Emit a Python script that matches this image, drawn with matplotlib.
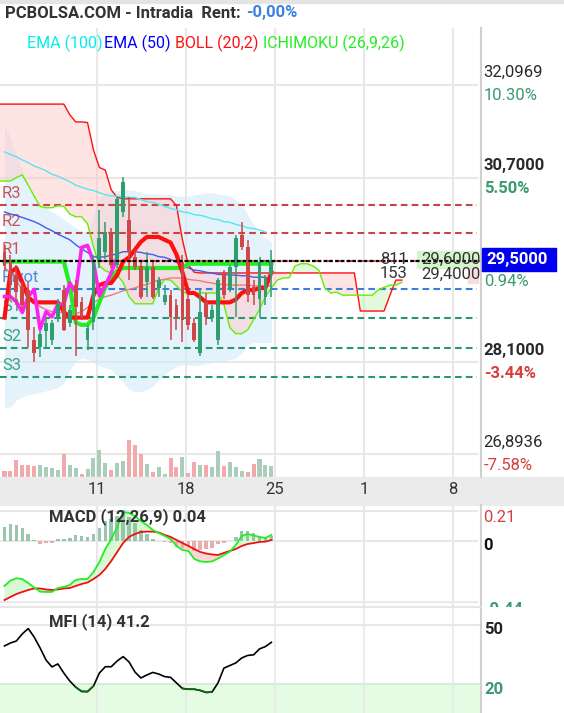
import numpy as np
import matplotlib
matplotlib.use("Agg")
import matplotlib.pyplot as plt
from matplotlib.patches import Rectangle
from matplotlib.lines import Line2D

plt.rcParams['font.family'] = ['Roboto', 'DejaVu Sans']

# ---------------- data ----------------
opens = [29.63,29.49,29.30,29.15,29.09,28.41,28.31,28.52,28.41,28.72,29.09,28.64,29.16,28.92,28.41,
         28.65,29.49,29.62,29.91,29.44,30.20,30.09,29.55,29.43,29.20,29.41,29.12,28.93,29.02,28.89,
         29.49,28.96,28.64,28.23,28.93,28.71,28.41,29.33,29.12,29.41,29.87,29.70,29.13,28.96,29.00,29.30]
highs = [29.73,29.59,29.44,29.20,29.20,28.58,28.52,28.71,28.68,28.96,29.16,28.89,29.23,28.99,28.61,
         29.59,30.23,30.06,29.97,30.42,30.71,30.42,29.66,29.49,29.63,29.49,29.28,29.16,29.09,28.96,
         29.59,29.02,28.71,29.09,29.05,28.89,29.26,29.37,29.44,29.87,30.05,29.80,29.23,29.55,29.30,29.66]
lows = [29.37,28.96,28.89,28.82,28.31,28.10,28.17,28.31,28.34,28.65,28.52,28.58,28.18,28.68,28.27,
        28.54,29.40,29.52,29.40,29.40,30.12,29.23,29.37,28.96,29.00,28.96,29.00,28.89,28.41,28.54,
        28.37,28.54,28.38,28.18,28.61,28.65,28.34,28.96,29.06,28.72,29.66,28.92,28.89,28.71,28.89,29.00]
closes = [29.43,29.16,29.06,28.89,28.54,28.23,28.48,28.63,28.63,28.90,28.54,28.82,28.85,28.72,28.57,
          29.49,29.83,29.91,29.44,30.38,30.64,29.62,29.41,29.00,29.41,29.00,29.23,29.02,28.72,28.71,
          28.68,28.61,28.41,28.79,28.72,28.82,29.23,29.02,29.41,29.83,29.70,29.02,29.02,29.49,29.27,29.50]
volume = [18,18,51,36,36,33,36,30,27,21,69,36,27,9,24,57,81,42,21,42,48,111,96,69,39,15,30,9,57,30,
          60,12,45,36,36,30,78,33,45,30,18,15,39,54,36,33]
vol_up = [0,0,0,0,0,0,1,1,1,1,0,1,1,0,1,1,1,1,0,1,1,0,0,0,1,0,1,1,0,0,
          1,0,0,1,0,1,1,0,1,1,1,0,0,1,1,1]

ema100 = [31.08,31.04,31.01,30.96,30.92,30.87,30.84,30.80,30.75,30.72,30.68,30.64,30.59,30.56,30.53,
          30.51,30.48,30.45,30.43,30.43,30.42,30.41,30.41,30.38,30.35,30.34,30.31,30.28,30.25,30.23,
          30.20,30.19,30.16,30.15,30.13,30.10,30.09,30.06,30.05,30.02,30.00,29.97,29.96,29.94,29.91]
ema50 = [30.20,30.17,30.15,30.12,30.09,30.06,30.02,29.97,29.93,29.88,29.84,29.80,29.73,29.67,29.62,
         29.56,29.55,29.56,29.58,29.60,29.63,29.63,29.63,29.62,29.60,29.59,29.56,29.55,29.52,29.48,
         29.43,29.40,29.37,29.36,29.34,29.33,29.31,29.31,29.30,29.30,29.29,29.29,29.27,29.27,29.27]
boll_up = [31.48,31.29,31.03,30.81,30.59,30.41,30.31,30.26,30.20,30.15,30.09,30.03,29.97,29.93,29.91,
           30.16,30.41,30.48,30.49,30.51,30.52,30.52,30.51,30.49,30.46,30.46,30.46,30.45,30.45,30.43,
           30.43,30.43,30.45,30.46,30.48,30.48,30.46,30.45,30.43,30.38,30.31,30.16,30.02,29.90,29.83,29.77]
boll_lo = [27.50,27.51,27.60,27.64,27.67,27.68,27.70,27.72,27.74,27.76,27.82,28.00,28.11,28.16,28.14,
           28.10,28.05,28.03,28.00,27.92,27.83,27.74,27.71,27.71,27.74,27.78,27.87,27.94,28.00,28.04,
           28.07,28.07,28.05,28.07,28.08,28.10,28.11,28.12,28.14,28.16,28.23,28.34,28.37,28.37,28.37,28.37]
boll_mid = [29.40,29.34,29.23,29.09,29.01,28.93,28.86,28.82,28.79,28.78,28.78,28.76,28.76,28.79,28.85,
            28.92,28.96,29.00,29.02,29.05,29.08,29.10,29.12,29.15,29.17,29.20,29.23,29.24,29.26,29.26,
            29.26,29.24,29.23,29.22,29.20,29.19,29.17,29.17,29.16,29.16,29.16,29.16,29.15,29.15,29.15,29.15]
tenkan = [28.71,29.34,29.40,29.20,28.99] + [28.92]*5 + [28.79] + [28.71]*4 + \
         [29.02,29.16,29.19,29.19,29.30,29.49,29.55,29.66,29.77,29.84,29.84,29.84,29.80,29.76,29.59,29.34,
          29.05,29.05,28.99] + [28.92]*5 + [28.96,29.05,29.09,29.09,29.12,29.12,29.34]
kijun = [29.49]*11 + [29.16,28.64,28.61,28.61,28.71,28.92,29.13,29.26,29.36] + [29.40]*11 + [29.46]*15
chikou = [29.00,29.00,28.93,28.78,29.00,29.10,28.55,28.79,28.72,28.89,28.90,29.19,29.06,29.69,29.72,
          29.48,29.01,29.16,29.33,29.56]
span_x = list(range(-1, 68))
span_b = [31.80]*12 + [31.64,31.53,31.53,31.52,31.11,30.85,30.81,30.52,30.41] + [30.39]*9 + \
         [30.29,29.80,29.44,29.34] + [29.33]*27 + [28.80]*5 + [29.02,29.23,29.23]
span_a = [30.65,30.65,30.65,30.70,30.74,30.59,30.43,30.28,30.26,30.26,30.29,30.28,30.17,30.13,30.13,
          30.03,29.70,29.43,29.36,29.33,29.30,29.20,29.00,28.90,28.90,28.90,28.90,29.12,29.24,29.23,
          29.15,29.06] + [29.05]*6 + \
         [28.89,28.57,28.49,28.49,28.54,28.68,28.82,29.00,29.12,29.23,29.26,29.26,29.43,29.46,29.46,
          29.43,29.37,29.12,29.05,29.06] + [29.02]*6 + [29.09,29.13,29.16,29.16,29.20]

pivot_names = ['R3', 'R2', 'R1', 'Pivot', 'S1', 'S2', 'S3']
pivot_vals = [30.30, 29.90, 29.50, 29.10, 28.70, 28.30, 27.90]
last_price = 29.50

macd = [-0.325,-0.286,-0.270,-0.275,-0.304,-0.336,-0.366,-0.368,-0.368,-0.340,-0.332,-0.318,-0.282,
        -0.275,-0.275,-0.225,-0.153,-0.060,0.012,0.098,0.206,0.199,0.177,0.141,0.113,0.077,0.055,0.034,
        0.012,-0.038,-0.067,-0.074,-0.131,-0.149,-0.153,-0.149,-0.128,-0.103,-0.079,-0.031,0.034,0.048,
        0.037,0.027,0.019,0.041]
signal = [-0.426,-0.404,-0.383,-0.368,-0.354,-0.343,-0.343,-0.350,-0.354,-0.350,-0.343,-0.340,-0.325,
          -0.311,-0.300,-0.275,-0.246,-0.203,-0.146,-0.081,-0.017,0.027,0.048,0.062,0.065,0.065,0.059,
          0.041,0.027,0.005,-0.017,-0.038,-0.060,-0.081,-0.092,-0.099,-0.103,-0.088,-0.074,-0.060,-0.038,
          -0.024,-0.017,-0.009,-0.007,0.005]
mfi = [39.4,40.9,41.9,45.5,48.2,43.9,38.4,32.3,28.8,30.3,25.7,21.7,18.6,16.4,16.3,19.1,25.7,28.9,28.9,
       31.8,34.0,31.3,26.2,23.2,24.7,26.0,25.2,23.9,23.5,20.7,17.9,17.5,17.5,16.9,15.9,16.1,20.7,28.2,
       29.5,30.8,33.3,34.6,34.9,37.9,39.1,41.2]

tick_pos = [15.6, 30.6, 45.6, 60.6, 75.6]
tick_labels = ['11', '18', '25', '1', '8']
grid_prices = [32.0969, 30.7, 28.1, 26.8936]
grid_labels = ['32,0969', '30,7000', '28,1000', '26,8936']
grid_pcts = ['10.30%', '5.50%', '-3.44%', '-7.58%']
grid_bold = [False, True, True, False]

# ---------------- layout ----------------
W, H = 564, 713
fig = plt.figure(figsize=(W / 100, H / 100), dpi=100)
fig.patch.set_facecolor('white')


def axes_px(l, t, r, b):
    a = fig.add_axes([l / W, 1 - b / H, (r - l) / W, (b - t) / H])
    a.set_facecolor('none')
    a.axis('off')
    return a


def fig_rect(l, t, r, b, color, z=0):
    fig.patches.append(Rectangle((l / W, 1 - b / H), (r - l) / W, (b - t) / H,
                                 transform=fig.transFigure, color=color, zorder=z))


def fig_vline(x, t, b, color, lw):
    fig.lines.append(Line2D([x / W, x / W], [1 - t / H, 1 - b / H], transform=fig.transFigure,
                            color=color, lw=lw))


XL = (-0.759, 80.35)
YL = (26.60, 32.98)
GRID = '#e8e8e8'
RED = '#d04545'
GREEN = '#2e9e6e'
GX = 477 / 481

fig_rect(0, 0, W, 3, '#e4e4e4')
fig_rect(0, 477, W, 505, '#ebebeb')

x = np.arange(len(closes))
o = np.array(opens); c = np.array(closes); hi = np.array(highs); lo = np.array(lows)

# volume + grid (bottom layer)
vax = axes_px(0, 28, 481, 477)
vax.set_xlim(XL)
vax.set_ylim(0, 1347)
for t in tick_pos:
    vax.axvline(t, color=GRID, lw=1.5, zorder=0)
for p in grid_prices:
    f = (np.log(p) - np.log(YL[0])) / (np.log(YL[1]) - np.log(YL[0]))
    vax.plot([0, GX], [f, f], transform=vax.transAxes, color=GRID, lw=1.5, zorder=0)
vax.bar(x, volume, width=0.68, color=['#a9cdb9' if u else '#f1a9a9' for u in vol_up], zorder=2)

# price layer
ax = axes_px(0, 28, 481, 477)
ax.set_yscale('log')
ax.set_xlim(XL)
ax.set_ylim(YL)

xb = np.arange(len(boll_up))
ax.fill_between(xb, boll_lo, boll_up, color='#cfe9f8', alpha=0.55, lw=0, zorder=1)
sa = np.array(span_a); sb = np.array(span_b)
ax.fill_between(span_x, sa, sb, where=sb >= sa, interpolate=True, color='#ffcaca', alpha=0.5, lw=0, zorder=1)
ax.fill_between(span_x, sa, sb, where=sa > sb, interpolate=True, color='#c6f5bd', alpha=0.5, lw=0, zorder=1)
ax.plot(span_x, span_b, color='#ff1010', lw=1.0, zorder=3)
ax.plot(span_x, span_a, color='#66ee00', lw=1.0, zorder=3)

pcol = ['#c94444', '#c94444', '#c94444', '#3a7fd9', '#2b9670', '#2b9670', '#2b9670']
for name, p, col in zip(pivot_names, pivot_vals, pcol):
    ax.axhline(p, xmin=0, xmax=GX, color=col, lw=1.5, ls=(0, (3.2, 2.0)), zorder=2)
    ax.annotate(name, xy=(0, p), xycoords=ax.get_yaxis_transform(), xytext=(2, 7),
                textcoords='offset pixels', va='baseline', ha='left', fontsize=12,
                color=col, alpha=0.9, zorder=2)

ax.plot(np.arange(len(ema100)), ema100, color='#55e6f0', lw=1.0, zorder=3)
ax.plot(np.arange(len(ema50)), ema50, color='#3a5cf0', lw=1.0, zorder=3)
ax.plot(xb, boll_mid, color='#f07a7a', lw=1.0, zorder=3)
ax.plot(np.arange(len(kijun)), kijun, color='#22ee22', lw=3.0, zorder=4, solid_joinstyle='round')
ax.plot(np.arange(len(tenkan)), tenkan, color='#ff1010', lw=3.0, zorder=4, solid_joinstyle='round')
ax.plot(np.arange(len(chikou)), chikou, color='#ff22ee', lw=2.6, zorder=4, solid_joinstyle='round')

ccol = [GREEN if cc >= oo else RED for oo, cc in zip(opens, closes)]
ax.vlines(x, lo, hi, colors=ccol, lw=1.1, zorder=5)
ax.bar(x, np.maximum(np.abs(c - o), 0.01), bottom=np.minimum(o, c), width=0.64, color=ccol, zorder=5)

ax.axhline(last_price, color='black', lw=1.6, ls=(0, (1.6, 1.0)), zorder=6)

# right axis labels
for p, lab, pct, b in zip(grid_prices, grid_labels, grid_pcts, grid_bold):
    ax.annotate(lab, xy=(1, p), xycoords=ax.get_yaxis_transform(), xytext=(2, 12),
                textcoords='offset pixels', va='center', ha='left', fontsize=12,
                color='#2a2a2a', fontweight='bold' if b else 'normal', annotation_clip=False)
    ax.annotate(pct, xy=(1, p), xycoords=ax.get_yaxis_transform(), xytext=(3, -11),
                textcoords='offset pixels', va='center', ha='left', fontsize=12,
                color='#d63f3f' if pct.startswith('-') else '#3a9a6e',
                fontweight='bold' if b else 'normal', annotation_clip=False)

# current price box
fig_rect(482, 248, 556, 271, '#0000ee', z=5)
fig.text(486 / W, 1 - 259.5 / H, '29,5000', color='white', fontsize=12, fontweight='bold',
         va='center', ha='left', zorder=6)
fig.text(484 / W, 1 - 281 / H, '0.94%', color='#3a9a6e', fontsize=12, va='center', ha='left')

# bid / ask
ax.add_patch(Rectangle((416.7 / 481, (477 - 268) / 449), 61.3 / 481, 17.3 / 449,
                       transform=ax.transAxes, color='#d6f5cc', zorder=5))
ax.add_patch(Rectangle((468 / 481, (477 - 283) / 449), 10 / 481, 15 / 449,
                       transform=ax.transAxes, color='#f9dcdc', zorder=5))
for txt, px, py in [('811', 380, 259), ('29,6000', 421.7, 259), ('153', 380, 274), ('29,4000', 421.7, 274)]:
    ax.text(px / 481, (477 - py) / 449, txt, transform=ax.transAxes, fontsize=12, color='#333333',
            va='center', ha='left', clip_on=True, zorder=7)

# title + legend
fig.text(5 / W, 1 - 13 / H, 'PCBOLSA.COM - Intradia  Rent:', fontsize=12, fontweight='bold',
         color='#333333', va='center', ha='left')
fig.text(246 / W, 1 - 13 / H, '-0,00%', fontsize=12, fontweight='bold', color='#3b82e0',
         va='center', ha='left')
for txt, px, col in [('EMA (100)', 27, '#00eeee'), ('EMA (50)', 104, '#0000ff'),
                     ('BOLL (20,2)', 175, '#ff1010'), ('ICHIMOKU (26,9,26)', 263, '#22ee22')]:
    fig.text(px / W, 1 - 43.5 / H, txt, fontsize=11.5, color=col, va='center', ha='left')

# x tick labels
for t, lab in zip(tick_pos, tick_labels):
    fig.text((4.5 + 5.93 * t) / W, 1 - 490 / H, lab, fontsize=12, color='#333333',
             va='center', ha='center')

# ---------------- MACD ----------------
mac = axes_px(0, 505, 481, 607)
mac.set_xlim(XL)
mac.set_ylim(-0.476, 0.256)
for t in tick_pos:
    mac.axvline(t, color=GRID, lw=1.5, zorder=0)
for v in [0.21, 0.0, -0.44]:
    mac.axhline(v, xmin=0, xmax=GX, color=GRID, lw=1.5, zorder=0)
m = np.array(macd); s = np.array(signal)
mac.fill_between(x, m, s, where=m >= s, interpolate=True, color='#d8f8d6', lw=0, zorder=1)
mac.fill_between(x, m, s, where=m < s, interpolate=True, color='#fbd6d6', lw=0, zorder=1)
hist = m - s
mac.bar(x, hist, width=0.6, color=['#8fbfa5' if h >= 0 else '#e9a3a3' for h in hist], alpha=0.9, zorder=2)
mac.plot(x, s, color='#ee1111', lw=1.3, zorder=3)
mac.plot(x, m, color='#22ee22', lw=1.3, zorder=3)
fig.text(48.6 / W, 1 - 517 / H, 'MACD (12,26,9) 0.04', fontsize=12, fontweight='bold',
         color='#333333', va='center', ha='left')
macr = axes_px(481, 505, 564, 607)
macr.set_xlim(0, 1); macr.set_ylim(0, 102)
macr.text(0.03, 102 - 12, '0.21', fontsize=12, color='#d63f3f', va='center', clip_on=True)
macr.text(0.03, 102 - 40, '0', fontsize=12, color='#111111', fontweight='bold', va='center', clip_on=True)
macr.text(0.03, -3, '-0.44', fontsize=12, color='#3a9a6e', fontweight='bold', va='center', clip_on=True)

# ---------------- MFI ----------------
mf = axes_px(0, 607, 481, 713)
mf.set_xlim(XL)
mf.set_ylim(5.48, 59.1)
mf.axhspan(5.48, 20, xmin=0, xmax=1, color='#e6fbe3', lw=0, zorder=0)
for t in tick_pos:
    mf.axvline(t, color=GRID, lw=1.5, zorder=0.5, alpha=0.8)
mf.axhline(50, color=GRID, lw=1.5, zorder=0.5)
mf.axhline(20, color='#d6ecd6', lw=1.5, zorder=0.5)
mv = np.array(mfi)
mf.plot(x, mv, color='black', lw=1.2, zorder=3)
low_mask = np.ma.masked_where(mv >= 20.5, mv)
mf.plot(x, low_mask, color='#0b6a0b', lw=1.2, zorder=4)
fig.text(48.6 / W, 1 - 622 / H, 'MFI (14) 41.2', fontsize=12, fontweight='bold',
         color='#333333', va='center', ha='left')
fig.text(484 / W, 1 - 630 / H, '50', fontsize=12, fontweight='bold', color='#222222', va='center')
fig.text(484 / W, 1 - 689 / H, '20', fontsize=12, fontweight='bold', color='#3a9a6e', va='center')

# separators
fig_vline(481, 28, 477, '#d0d0d0', 1.5)
fig_vline(481, 505, 713, '#d0d0d0', 1.5)
fig.lines.append(Line2D([0, 481 / W], [1 - 607 / H, 1 - 607 / H], transform=fig.transFigure,
                        color='#e2e2e2', lw=1.2))

fig.savefig('out.png', dpi=100)
